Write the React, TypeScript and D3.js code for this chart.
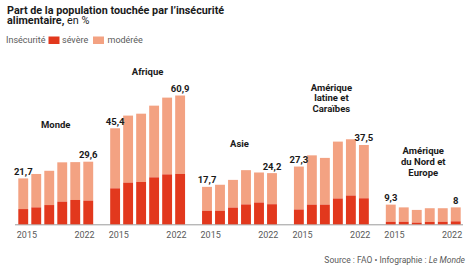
import { useEffect, useRef } from "react";
import * as d3 from "d3";

const WIDTH = 474;
const HEIGHT = 275;
const BASELINE_Y = 224.3;
const PX_PER_UNIT = 2.115;
const PLOT_LEFT = 18.3;
const PLOT_RIGHT = 460.7;

const SEVERE_COLOR = "#e2381d";
const MODERATE_COLOR = "#f3a282";
const AXIS_COLOR = "#9a9a9a";
const TEXT_COLOR = "#1a1a1a";
const GRAY_TEXT = "#5a5a5a";
const FONT = "Roboto, 'Noto Sans', sans-serif";

const REGIONS = [
  "Monde",
  "Afrique",
  "Asie",
  "Amérique latine et Caraïbes",
  "Amérique du Nord et Europe",
];
const REGION_TITLE_LINES = [
  ["Monde"],
  ["Afrique"],
  ["Asie"],
  ["Amérique", "latine et", "Caraïbes"],
  ["Amérique", "du Nord et", "Europe"],
];
const YEARS = ["2015", "2017", "2019", "2020", "2021", "2022"];

// insécurité modérée ou sévère (total), en %
const TOTAL_MONDE = [21.7, 23.8, 25.3, 29.3, 29.4, 29.6];
const TOTAL_AFRIQUE = [45.4, 51.4, 52.3, 56.1, 59.9, 60.9];
const TOTAL_ASIE = [17.7, 18.7, 21.0, 25.6, 24.5, 24.2];
const TOTAL_ALC = [27.3, 32.6, 31.4, 39.1, 40.2, 37.5];
const TOTAL_ANE = [9.3, 8.0, 6.8, 7.6, 7.6, 8.0];

// insécurité sévère, en %
const SEVERE_MONDE = [7.2, 8.0, 9.1, 10.7, 11.5, 11.2];
const SEVERE_AFRIQUE = [17.0, 19.7, 20.0, 22.2, 23.6, 23.8];
const SEVERE_ASIE = [6.4, 6.4, 7.9, 9.4, 10.3, 9.5];
const SEVERE_ALC = [7.0, 9.3, 9.3, 12.2, 13.6, 12.3];
const SEVERE_ANE = [1.2, 1.2, 0.8, 1.1, 1.2, 1.4];

const TOTALS = [TOTAL_MONDE, TOTAL_AFRIQUE, TOTAL_ASIE, TOTAL_ALC, TOTAL_ANE];
const SEVERES = [SEVERE_MONDE, SEVERE_AFRIQUE, SEVERE_ASIE, SEVERE_ALC, SEVERE_ANE];

// how far (px) the last line of each region title sits above its tallest bar
const TITLE_LIFT = [34, 20, 23, 27, 29];
const TITLE_LINE_HEIGHT = 10.8;

const fmt = (v: number) => String(v).replace(".", ",");

export default function App() {
  const svgRef = useRef<SVGSVGElement>(null);

  useEffect(() => {
    if (!svgRef.current) return;
    const svg = d3.select(svgRef.current);
    svg.selectAll("*").remove();

    const yScale = d3
      .scaleLinear()
      .domain([0, 100])
      .range([BASELINE_Y, BASELINE_Y - 100 * PX_PER_UNIT]);

    const groupScale = d3
      .scaleBand<string>()
      .domain(REGIONS)
      .range([PLOT_LEFT, PLOT_RIGHT])
      .paddingInner(0.185);

    const barScale = d3
      .scaleBand<string>()
      .domain(YEARS)
      .range([0, groupScale.bandwidth()])
      .paddingInner(0.24);

    // header
    svg
      .append("text")
      .attr("x", 7)
      .attr("y", 14.3)
      .attr("font-family", FONT)
      .attr("font-size", 10.8)
      .attr("font-weight", 700)
      .attr("fill", TEXT_COLOR)
      .text("Part de la population touchée par l’insécurité");
    const t2 = svg
      .append("text")
      .attr("x", 7)
      .attr("y", 24.3)
      .attr("font-family", FONT)
      .attr("font-size", 10.8)
      .attr("fill", TEXT_COLOR);
    t2.append("tspan").attr("font-weight", 700).text("alimentaire,");
    t2.append("tspan").attr("font-weight", 400).text(" en %");

    // legend
    const legend = svg.append("g").attr("font-family", FONT).attr("font-size", 9);
    legend
      .append("text")
      .attr("x", 6)
      .attr("y", 43)
      .attr("fill", GRAY_TEXT)
      .text("Insécurité");
    legend
      .append("rect")
      .attr("x", 48.5)
      .attr("y", 36.5)
      .attr("width", 11)
      .attr("height", 7.5)
      .attr("fill", SEVERE_COLOR);
    legend
      .append("text")
      .attr("x", 62)
      .attr("y", 43)
      .attr("fill", GRAY_TEXT)
      .text("sévère");
    legend
      .append("rect")
      .attr("x", 93)
      .attr("y", 36.5)
      .attr("width", 11)
      .attr("height", 7.5)
      .attr("fill", MODERATE_COLOR);
    legend
      .append("text")
      .attr("x", 107.5)
      .attr("y", 43)
      .attr("fill", GRAY_TEXT)
      .text("modérée");

    // baseline
    svg
      .append("line")
      .attr("x1", 15)
      .attr("x2", 463)
      .attr("y1", BASELINE_Y + 0.5)
      .attr("y2", BASELINE_Y + 0.5)
      .attr("stroke", AXIS_COLOR)
      .attr("stroke-width", 1);

    REGIONS.forEach((region, gi) => {
      const g = svg
        .append("g")
        .attr("transform", `translate(${groupScale(region)},0)`);
      const totals = TOTALS[gi];
      const severes = SEVERES[gi];
      const rows = YEARS.map((year, i) => ({
        year,
        total: totals[i],
        severe: severes[i],
      }));

      g.selectAll("rect.moderate")
        .data(rows)
        .enter()
        .append("rect")
        .attr("class", "moderate")
        .attr("x", (d) => barScale(d.year)!)
        .attr("width", barScale.bandwidth())
        .attr("y", (d) => yScale(d.total))
        .attr("height", (d) => yScale(d.severe) - yScale(d.total))
        .attr("fill", MODERATE_COLOR);

      g.selectAll("rect.severe")
        .data(rows)
        .enter()
        .append("rect")
        .attr("class", "severe")
        .attr("x", (d) => barScale(d.year)!)
        .attr("width", barScale.bandwidth())
        .attr("y", (d) => yScale(d.severe))
        .attr("height", (d) => yScale(0) - yScale(d.severe))
        .attr("fill", SEVERE_COLOR);

      // values on first and last bars
      const ends = [rows[0], rows[rows.length - 1]];
      g.selectAll("text.value")
        .data(ends)
        .enter()
        .append("text")
        .attr("class", "value")
        .attr("x", (d) => barScale(d.year)! + barScale.bandwidth() / 2)
        .attr("y", (d) => yScale(d.total) - 3.5)
        .attr("text-anchor", "middle")
        .attr("font-family", FONT)
        .attr("font-size", 9.5)
        .attr("font-weight", 700)
        .attr("fill", TEXT_COLOR)
        .text((d) => fmt(d.total));

      // year labels
      const first = rows[0];
      const last = rows[rows.length - 1];
      g.append("text")
        .attr("x", barScale(first.year)! - 1.5)
        .attr("y", 238)
        .attr("font-family", FONT)
        .attr("font-size", 9)
        .attr("fill", GRAY_TEXT)
        .text(first.year);
      g.append("text")
        .attr("x", barScale(last.year)! + barScale.bandwidth() + 1.5)
        .attr("y", 238)
        .attr("text-anchor", "end")
        .attr("font-family", FONT)
        .attr("font-size", 9)
        .attr("fill", GRAY_TEXT)
        .text(last.year);

      // region title
      const lines = REGION_TITLE_LINES[gi];
      const topY = yScale(d3.max(totals)!);
      const lastBaseline = topY - TITLE_LIFT[gi];
      const cx = groupScale.bandwidth() / 2;
      const tt = g
        .append("text")
        .attr("text-anchor", "middle")
        .attr("font-family", FONT)
        .attr("font-size", 9.5)
        .attr("font-weight", 700)
        .attr("fill", TEXT_COLOR);
      lines.forEach((line, li) => {
        tt.append("tspan")
          .attr("x", cx)
          .attr("y", lastBaseline - (lines.length - 1 - li) * TITLE_LINE_HEIGHT)
          .text(line);
      });
    });

    // source
    const src = svg
      .append("text")
      .attr("x", 465)
      .attr("y", 263)
      .attr("text-anchor", "end")
      .attr("font-family", FONT)
      .attr("font-size", 8.5)
      .attr("fill", GRAY_TEXT);
    src.append("tspan").text("Source : FAO • Infographie : ");
    src.append("tspan").attr("font-style", "italic").text("Le Monde");
  }, []);

  return (
    <svg
      ref={svgRef}
      width={WIDTH}
      height={HEIGHT}
      style={{ position: "absolute", left: 0, top: 0, background: "#fff" }}
    />
  );
}
